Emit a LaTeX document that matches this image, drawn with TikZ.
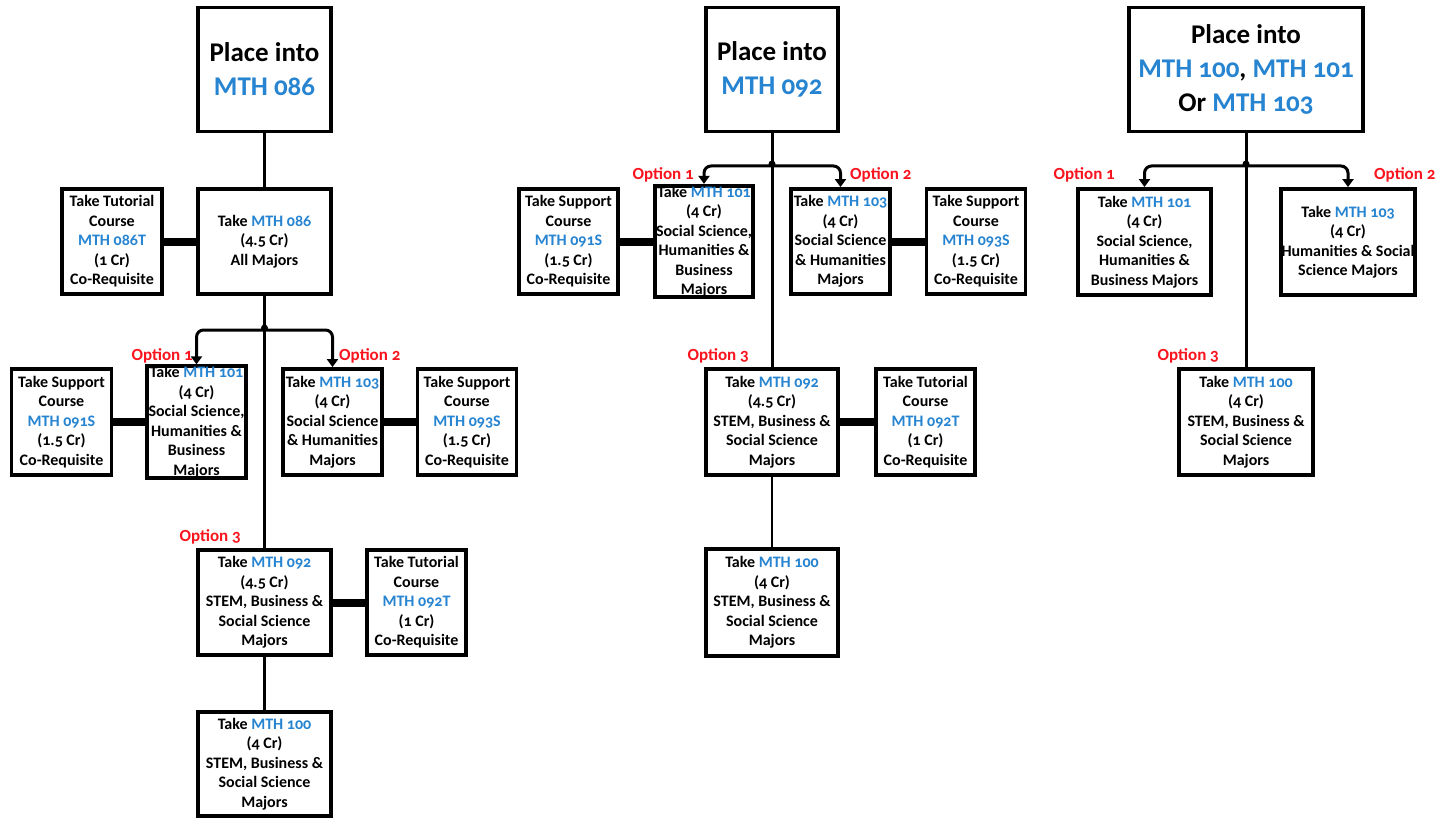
\documentclass[tikz,border=0pt]{standalone}
\usepackage{fontspec}
\setmainfont{Carlito}[Numbers=OldStyle]
\usetikzlibrary{arrows.meta}
\definecolor{mblue}{RGB}{38,132,209}
\definecolor{ored}{RGB}{250,20,30}
\newcommand{\crs}[1]{\textcolor{mblue}{#1}}
\begin{document}
\begin{tikzpicture}[x=1pt,y=-1pt,
  box/.style={draw, line width=3.8pt, inner sep=0pt, align=center, fill=white,
    font=\bfseries\fontsize{16}{19.5}\selectfont},
  titlebox/.style={box, font=\bfseries\fontsize{27}{34}\selectfont},
  conn/.style={line width=3pt},
  thinconn/.style={line width=1.5pt},
  cor/.style={line width=8pt},
  arr/.style={line width=3pt, rounded corners=7pt, -{Triangle[length=8pt,width=11pt]}},
  opt/.style={text=ored, font=\bfseries\fontsize{17}{20}\selectfont, inner sep=0pt}]
\useasboundingbox (0,0) rectangle (1455,821);
\fill[white] (0,0) rectangle (1455,821);

% ---------------- Left column ----------------
\node[titlebox, minimum width=133, minimum height=124] (Lp) at (264.5,69.5) {Place into\\\crs{MTH 086}};
\node[box, minimum width=133, minimum height=105] (Lt) at (264.5,241.5) {Take \crs{MTH 086}\\(4.5 Cr)\\All Majors};
\node[box, minimum width=100, minimum height=105] (Ltut) at (112,241.5) {Take Tutorial\\Course\\\crs{MTH 086T}\\(1 Cr)\\Co-Requisite};
\node[box, minimum width=99, minimum height=106] (L1) at (196.5,422) {Take \crs{MTH 101}\\(4 Cr)\\Social Science,\\Humanities \&\\Business\\Majors};
\node[box, minimum width=100, minimum height=106] (Ls1) at (61.5,422) {Take Support\\Course\\\crs{MTH 091S}\\(1.5 Cr)\\Co-Requisite};
\node[box, minimum width=99, minimum height=106] (L2) at (332.5,422) {Take \crs{MTH 103}\\(4 Cr)\\Social Science\\\& Humanities\\Majors};
\node[box, minimum width=99, minimum height=106] (Ls2) at (467,422) {Take Support\\Course\\\crs{MTH 093S}\\(1.5 Cr)\\Co-Requisite};
\node[box, minimum width=133, minimum height=105] (L3) at (264.5,602.5) {Take \crs{MTH 092}\\(4.5 Cr)\\STEM, Business \&\\Social Science\\Majors};
\node[box, minimum width=99, minimum height=105] (Ltut2) at (416.5,602.5) {Take Tutorial\\Course\\\crs{MTH 092T}\\(1 Cr)\\Co-Requisite};
\node[box, minimum width=133, minimum height=104] (L4) at (264.5,764) {Take \crs{MTH 100}\\(4 Cr)\\STEM, Business \&\\Social Science\\Majors};

\coordinate (Lj) at (264.5,330);
\draw[conn] (Lp) -- (Lt);
\draw[conn] (Lt) -- (L3);
\draw[conn] (L3) -- (L4);
\draw[arr] (Lj) -| (L1.north);
\draw[arr] (Lj) -| (L2.north);
\fill (Lj) ++(0,-2) circle (3.5pt);
\draw[cor] (Ltut) -- (Lt);
\draw[cor] (Ls1) -- (L1);
\draw[cor] (L2) -- (Ls2);
\draw[cor] (L3) -- (Ltut2);
\node[opt, anchor=east] (Lo1) at (193,356) {Option 1};
\node[opt, anchor=west] (Lo2) at (339,356) {Option 2};
\node[opt, anchor=east] (Lo3) at (241,537) {Option 3};

% ---------------- Middle column ----------------
\node[titlebox, minimum width=132, minimum height=124] (Mp) at (772,69.5) {Place into\\\crs{MTH 092}};
\node[box, minimum width=98, minimum height=105] (M1) at (704,241.5) {Take \crs{MTH 101}\\(4 Cr)\\Social Science,\\Humanities \&\\Business\\Majors};
\node[box, minimum width=99, minimum height=105] (Ms1) at (568.5,241.5) {Take Support\\Course\\\crs{MTH 091S}\\(1.5 Cr)\\Co-Requisite};
\node[box, minimum width=99, minimum height=105] (M2) at (840.5,241.5) {Take \crs{MTH 103}\\(4 Cr)\\Social Science\\\& Humanities\\Majors};
\node[box, minimum width=99, minimum height=105] (Ms2) at (976,241.5) {Take Support\\Course\\\crs{MTH 093S}\\(1.5 Cr)\\Co-Requisite};
\node[box, minimum width=132, minimum height=106] (M3) at (772,422) {Take \crs{MTH 092}\\(4.5 Cr)\\STEM, Business \&\\Social Science\\Majors};
\node[box, minimum width=99, minimum height=106] (Mtut) at (925.5,422) {Take Tutorial\\Course\\\crs{MTH 092T}\\(1 Cr)\\Co-Requisite};
\node[box, minimum width=132, minimum height=107] (M4) at (772,602.5) {Take \crs{MTH 100}\\(4 Cr)\\STEM, Business \&\\Social Science\\Majors};

\coordinate (Mj) at (772,166);
\draw[conn] (Mp) -- (M3);
\draw[thinconn] (M3) -- (M4);
\draw[arr] (Mj) -| (M1.north);
\draw[arr] (Mj) -| (M2.north);
\fill (Mj) ++(0,-2) circle (3.5pt);
\draw[cor] (Ms1) -- (M1);
\draw[cor] (M2) -- (Ms2);
\draw[cor] (M3) -- (Mtut);
\node[opt, anchor=east] (Mo1) at (694,175) {Option 1};
\node[opt, anchor=west] (Mo2) at (850,175) {Option 2};
\node[opt, anchor=east] (Mo3) at (749,356) {Option 3};

% ---------------- Right column ----------------
\node[titlebox, minimum width=234, minimum height=124] (Rp) at (1246,69.5) {Place into\\\crs{MTH 100}, \crs{MTH 101}\\Or \crs{MTH 103}};
\node[box, minimum width=133, minimum height=106] (R1) at (1144.5,242) {Take \crs{MTH 101}\\(4 Cr)\\Social Science,\\Humanities \&\\Business Majors};
\node[box, minimum width=134, minimum height=106] (R2) at (1348,242) {Take \crs{MTH 103}\\(4 Cr)\\Humanities \& Social\\Science Majors};
\node[box, minimum width=134, minimum height=106] (R3) at (1246,422) {Take \crs{MTH 100}\\(4 Cr)\\STEM, Business \&\\Social Science\\Majors};

\coordinate (Rj) at (1246,166);
\draw[conn] (Rp) -- (R3);
\draw[arr] (Rj) -| (R1.north);
\draw[arr] (Rj) -| (R2.north);
\fill (Rj) ++(0,-2) circle (3.5pt);
\node[opt, anchor=east] (Ro1) at (1115,175) {Option 1};
\node[opt, anchor=west] (Ro2) at (1374,175) {Option 2};
\node[opt, anchor=east] (Ro3) at (1219,356) {Option 3};
\end{tikzpicture}
\end{document}
